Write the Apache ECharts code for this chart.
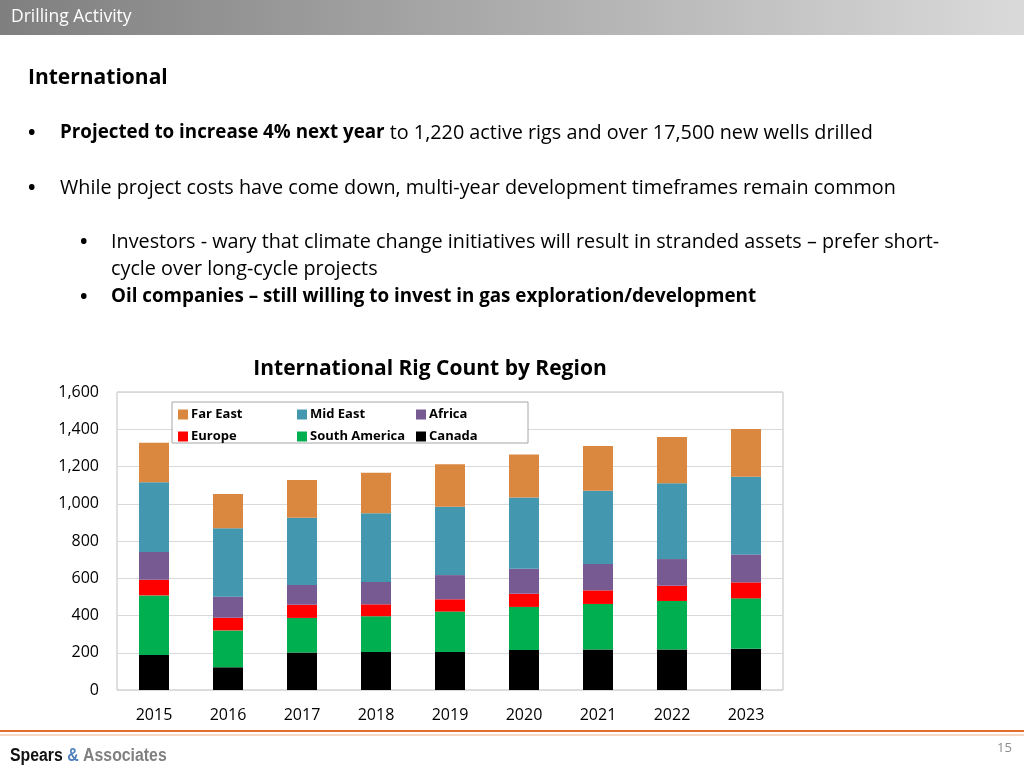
<!DOCTYPE html>
<html><head><meta charset="utf-8">
<script src="https://cdn.jsdelivr.net/npm/echarts@6/dist/echarts.min.js"></script>
<style>html,body{margin:0;padding:0;background:#fff}#c{width:1024px;height:768px}</style>
</head><body><div id="c"></div>
<script>
const years = ['2015','2016','2017','2018','2019','2020','2021','2022','2023'];
const canada       = [188,122,201,204,204,215,217,218,222];
const southAmerica = [320,198,186,192,217,231,245,260,270];
const europe       = [84,68,71,64,66,71,73,82,86];
const africa       = [149,113,106,120,130,134,142,143,150];
const midEast      = [374,367,361,369,367,382,393,407,417];
const farEast      = [213,184,203,218,228,232,240,248,256];
const yTicks = [0,200,400,600,800,1000,1200,1400,1600];

const F = '"Open Sans", Lato, sans-serif';
const chart = echarts.init(document.getElementById('c'));
const mk = (name, data, color) => ({name, type:'bar', stack:'t', data, barWidth:30,
  itemStyle:{color}, emphasis:{disabled:true}});
const legendBase = {orient:'vertical', top:403, itemWidth:10, itemHeight:10, itemGap:9, icon:'rect',
  textStyle:{fontFamily:F, fontWeight:'bold', fontSize:13, color:'#000', padding:[0,0,0,-2]}, selectedMode:false};
const T = (x, y, text, font, extra) => Object.assign({type:'text', x, y,
  style:{text, fill:'#000', font, textVerticalAlign:'middle'}}, extra || {});
const REG = '19.8px ' + F, BOLD = 'bold 18.8px ' + F, BUL = 'bold 20px ' + F;

chart.setOption({
  animation:false,
  graphic:[
    {type:'rect', shape:{x:0,y:0,width:1024,height:35}, style:{fill:new echarts.graphic.LinearGradient(0,0,1,0,[{offset:0,color:'#7f7f7f'},{offset:1,color:'#dadada'}])}},
    {type:'text', x:11, y:17, style:{text:'Drilling Activity', fill:'#fff', font:'17.5px '+F, textVerticalAlign:'middle'}},
    T(28, 78, 'International', 'bold 21px '+F),
    T(28, 133, '•', BUL),
    {type:'text', x:60, y:133, style:{textVerticalAlign:'middle', rich:{b:{fontFamily:F,fontSize:18.8,fontWeight:'bold',fill:'#000'},n:{fontFamily:F,fontSize:19.8,fill:'#000'}},
      text:'{b|Projected to increase 4% next year}{n| to 1,220 active rigs and over 17,500 new wells drilled}'}},
    T(28, 188, '•', BUL),
    T(60, 188, 'While project costs have come down, multi-year development timeframes remain common', REG),
    T(80, 242, '•', BUL),
    T(111, 242, 'Investors - wary that climate change initiatives will result in stranded assets – prefer short-', REG),
    T(111, 269, 'cycle over long-cycle projects', REG),
    T(80, 297, '•', BUL),
    T(111, 297, 'Oil companies – still willing to invest in gas exploration/development', BOLD),
    {type:'text', x:430, y:369, style:{text:'International Rig Count by Region', fill:'#000', font:'bold 21px '+F, textAlign:'center', textVerticalAlign:'middle'}},
    {type:'rect', z:5, shape:{x:172,y:402,width:356,height:41}, style:{fill:'#fff', stroke:'#a6a6a6', lineWidth:1}},
    {type:'line', shape:{x1:0,y1:731,x2:1024,y2:731}, style:{stroke:'#E46C2A', lineWidth:2}},
    {type:'line', shape:{x1:0,y1:735,x2:1024,y2:735}, style:{stroke:'#F4B183', lineWidth:1}},
    {type:'text', x:10, y:756, scaleX:0.88, style:{textVerticalAlign:'middle', rich:{a:{fontFamily:'"Liberation Sans",sans-serif',fontSize:18,fontWeight:'bold',fill:'#111'},
      b:{fontFamily:'"Liberation Sans",sans-serif',fontSize:18,fontWeight:'bold',fill:'#4F81BD'},
      c:{fontFamily:'"Liberation Sans",sans-serif',fontSize:18,fontWeight:'bold',fill:'#808080'}},
      text:'{a|Spears }{b|&}{c| Associates}'}},
    {type:'text', x:997, y:748, style:{text:'15', fill:'#8c8c8c', font:'13px '+F, textVerticalAlign:'middle'}}
  ],
  legend:[
    Object.assign({left:173, data:['Far East','Europe'], z:10}, legendBase),
    Object.assign({left:292, data:['Mid East','South America'], z:10}, legendBase),
    Object.assign({left:411, data:['Africa','Canada'], z:10}, legendBase)
  ],
  grid:{left:117, top:392, right:241, bottom:78, show:true, borderColor:'#bfbfbf', borderWidth:1},
  xAxis:{type:'category', data:years, axisTick:{show:false}, axisLine:{show:false},
    axisLabel:{fontFamily:F, fontSize:16, color:'#000', margin:17}},
  yAxis:{type:'value', min:yTicks[0], max:yTicks[yTicks.length-1], interval:200,
    axisLine:{show:false}, axisTick:{show:false},
    splitLine:{lineStyle:{color:'#d9d9d9'}},
    axisLabel:{fontFamily:F, fontSize:16, color:'#000', margin:18,
      formatter:v=>v.toLocaleString('en-US')}},
  series:[
    mk('Canada', canada, '#000000'),
    mk('South America', southAmerica, '#00B050'),
    mk('Europe', europe, '#FF0000'),
    mk('Africa', africa, '#775A92'),
    mk('Mid East', midEast, '#4397AF'),
    mk('Far East', farEast, '#DA8840')
  ]
});
</script></body></html>
